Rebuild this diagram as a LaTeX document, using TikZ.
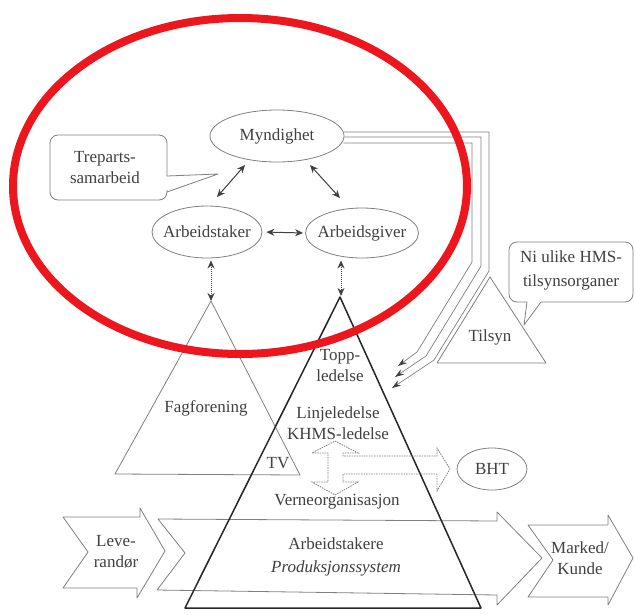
\documentclass[tikz,border=0pt]{standalone}
\usepackage{fontspec}
\setmainfont{Liberation Serif}
\usetikzlibrary{arrows.meta,shapes.geometric,calc}
\definecolor{ink}{RGB}{64,64,64}
\definecolor{pencil}{RGB}{128,128,128}
\definecolor{ringred}{RGB}{236,22,28}
\begin{document}
\begin{tikzpicture}[x=1pt,y=-1pt,
  txt/.style={text=ink, font=\fontsize{17}{21}\selectfont, align=center, inner sep=0pt},
  oval/.style={ellipse, draw=pencil, line width=0.8pt, txt, inner xsep=-6pt, inner ysep=0pt},
  outline/.style={draw=pencil, line width=0.8pt, line join=round},
  biarrow/.style={draw=ink, line width=1pt,
    {Stealth[length=8pt,width=7pt]}-{Stealth[length=8pt,width=7pt]}},
  dotlink/.style={biarrow, densely dotted},
  feed/.style={draw=pencil, line width=0.7pt, -{Stealth[length=9pt,width=6pt,color=ink]}},
  pyramid/.style={draw=black!85, line width=1.5pt, line join=round},
  blockarrow/.style={draw=pencil, line width=0.8pt, dash pattern=on 1.5pt off 1pt},
  ring/.style={draw=ringred, line width=8pt},
]
\fill[white] (0,0) rectangle (635,614);
\useasboundingbox (0,0) rectangle (635,614);

% value chain: supplier -> production -> market
\draw[outline] (63,517) -- (140,517) -- (140,508) -- (165,551) -- (137,598) -- (137,588)
  -- (63,588) -- (88,552) -- cycle;
\draw[outline] (158,519) -- (497,521) -- (497,512) -- (542,558) -- (497,605) -- (497,595)
  -- (157,590) -- (185,553) -- cycle;
\draw[outline] (528,525) -- (608,525) -- (608,515) -- (633,558) -- (608,605) -- (608,597)
  -- (528,597) -- (553,560) -- cycle;

% union and inspection triangles
\coordinate (fagtop) at (211,301);
\draw[outline] (fagtop) -- (300,475) -- (115,474) -- cycle;
\coordinate (tiltop) at (490,277);
\draw[outline] (tiltop) -- (546,363) -- (437,363) -- cycle;

% company pyramid
\coordinate (pyrtop) at (340,297);
\draw[pyramid] (pyrtop) -- (481,608) -- (185,608) -- cycle;

% safety-organisation double arrow with branch to BHT
\draw[blockarrow] (335,441) -- (358,453) -- (343,453) -- (343,456) -- (437,456) -- (437,448)
  -- (450,469) -- (437,491) -- (437,474) -- (343,474) -- (343,482) -- (358,482)
  -- (335,495) -- (312,482) -- (328,482) -- (328,453) -- (312,453) -- cycle;

% speech callouts
\draw[outline, rounded corners=8pt] (167,190) -- (167,200) -- (50,200) -- (50,135)
  -- (167,135) -- (167,176);
\draw[outline] (167,176) -- (218,174) -- (167,192);
\draw[outline, rounded corners=8pt] (541,302) -- (633,302) -- (633,242) -- (509,242)
  -- (509,302) -- (527,302);
\draw[outline] (527,302) -- (524,325) -- (541,302);

% ovals
\node[oval, minimum width=134pt, minimum height=52pt] (myn) at (277,136) {Myndighet};
\node[oval, minimum width=110pt, minimum height=52pt] (atk) at (207,232) {Arbeidstaker};
\node[oval, minimum width=113pt, minimum height=50pt] (agv) at (362,233) {Arbeidsgiver};
\node[oval, minimum width=70pt, minimum height=42pt] (bht) at (492,469) {BHT};

% authority lines down to the inspection bodies and into the pyramid
\draw[feed] ($(myn.east)+(-1,7)$) -- (472,143) -- (472,262) -- (417,352) -- (398,366);
\draw[feed] ($(myn.east)+(0,1)$) -- (481,137) -- (481,266) -- (426,356) -- (395,377);
\draw[feed] ($(myn.east)+(-1,-4)$) -- (489,132) -- (489,271) -- (434,360) -- (392,388);

% tripartite links
\draw[biarrow] ($(myn)+(-32,29)$) -- ($(atk)+(10,-35)$);
\draw[biarrow] ($(myn)+(33,29)$) -- ($(agv)+(-22,-35)$);
\draw[biarrow, shorten <=4pt, shorten >=2pt] (atk.east) -- (agv.west);
\draw[dotlink] ($(atk.south)+(4,2)$) -- (fagtop);
\draw[dotlink] ($(agv.south)+(-21,2)$) -- ($(pyrtop)+(1,-1)$);

% labels
\node[txt] (trep) at (105,168) {Treparts-\\samarbeid};
\node[txt, font=\fontsize{17}{24}\selectfont] (niul) at (571,270) {Ni ulike HMS-\\tilsynsorganer};
\node[txt] (tils) at (490,337) {Tilsyn};
\node[txt] (fagf) at (206,408) {Fagforening};
\node[txt] (topp) at (340,366) {Topp-\\ledelse};
\node[txt] (linj) at (338,423) {Linjeledelse\\KHMS-ledelse};
\node[txt] (tv) at (278,463) {TV};
\node[txt] (vern) at (337,502) {Verneorganisasjon};
\node[txt, font=\fontsize{17}{23}\selectfont] (arbs) at (336,557) {Arbeidstakere\\\textit{Produksjonssystem}};
\node[txt] (leve) at (116,552) {Leve-\\randør};
\node[txt] (mark) at (580,558) {Marked/\\Kunde};

% highlight ring
\draw[ring] (240,186) ellipse [x radius=227pt, y radius=168pt];
\end{tikzpicture}
\end{document}
